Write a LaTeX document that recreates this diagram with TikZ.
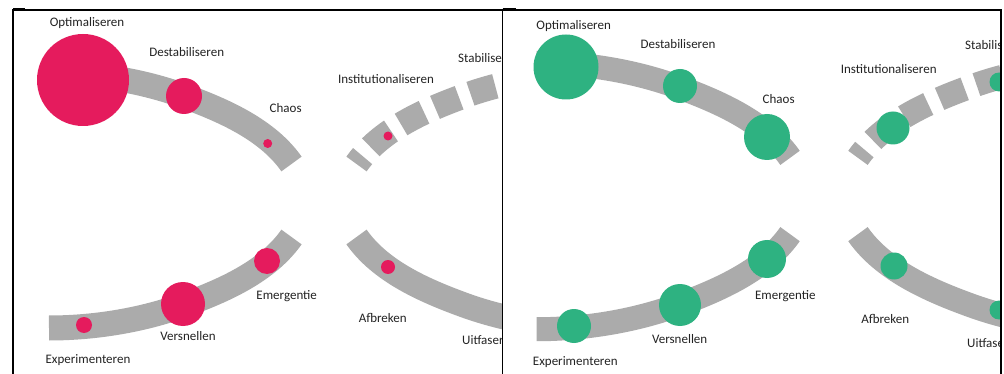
\documentclass[tikz,border=0pt]{standalone}
\usepackage{fontspec}
\setmainfont{Carlito}
\definecolor{pinkc}{RGB}{229,27,93}
\definecolor{greenc}{RGB}{46,178,129}
\definecolor{bandc}{RGB}{171,171,171}
\definecolor{txtc}{RGB}{35,35,35}
\newcommand{\bandcurve}{(-32.5,-36.5) .. controls (-56.6,-70.9) and (-100.5,-90.1) .. (-140,-104.5) .. controls (-182.3,-119.9) and (-230,-127.5) .. (-275,-127.5)}
\tikzset{
  bandL/.style={draw=bandc, line width=25pt, line cap=butt},
  bandR/.style={draw=bandc, line width=24pt, line cap=butt},
  dashL/.style={dash pattern=on 10pt off 12pt on 26pt off 12pt on 26pt off 12pt on 26pt off 12pt on 26pt off 12pt on 26pt off 12pt on 26pt off 12pt},
  dashR/.style={dash pattern=on 10.5pt off 12.5pt on 27pt off 12.5pt on 27pt off 12.5pt on 27pt off 12.5pt on 27pt off 12.5pt on 27pt off 12.5pt on 27pt off 12.5pt},
  pdot/.style={circle, fill=pinkc, inner sep=0pt, outer sep=0pt},
  gdot/.style={circle, fill=greenc, inner sep=0pt, outer sep=0pt},
  lbl/.style={text=txtc, font=\fontsize{13}{15}\selectfont, inner sep=0pt, anchor=mid},
  frame/.style={draw=black, line width=1.4pt}
}
\begin{document}
\begin{tikzpicture}[x=1pt, y=-1pt]
\useasboundingbox (0,0) rectangle (1004,374);
\fill[white] (0,0) rectangle (1004,374);

% ---------- left panel ----------
\begin{scope}
\clip (13,10) rectangle (502,374);
\begin{scope}[shift={(324,200.5)}]
  \draw[bandL] \bandcurve;
  \begin{scope}[yscale=-1] \draw[bandL] \bandcurve; \end{scope}
  \begin{scope}[xscale=-1] \draw[bandL, dashL] \bandcurve; \end{scope}
  \begin{scope}[xscale=-1, yscale=-1] \draw[bandL] \bandcurve; \end{scope}
\end{scope}
\node[pdot, minimum size=92pt] (lopt) at (83,80) {};
\node[pdot, minimum size=36pt] (ldes) at (184,96) {};
\node[pdot, minimum size=9pt] (lcha) at (267.7,143.5) {};
\node[pdot, minimum size=9pt] (lins) at (388,136) {};
\node[pdot, minimum size=16pt] (lexp) at (84,325) {};
\node[pdot, minimum size=44pt] (lver) at (183,304) {};
\node[pdot, minimum size=26pt] (leme) at (267,261) {};
\node[pdot, minimum size=14pt] (lafb) at (388,267) {};
\node[lbl] (tlopt) at (87,24) {Optimaliseren};
\node[lbl] (tldes) at (186.7,54) {Destabiliseren};
\node[lbl] (tlcha) at (285.7,110.5) {Chaos};
\node[lbl] (tlins) at (386,81) {Institutionaliseren};
\node[lbl, anchor=mid west] (tlsta) at (458,60) {Stabiliseren};
\node[lbl] (tlexp) at (88,361) {Experimenteren};
\node[lbl] (tlver) at (188,338.5) {Versnellen};
\node[lbl] (tleme) at (286.7,297) {Emergentie};
\node[lbl] (tlafb) at (382.7,320) {Afbreken};
\node[lbl, anchor=mid west] (tluit) at (462,342.5) {Uitfaseren};
\end{scope}

% ---------- right panel ----------
\begin{scope}
\clip (503,10) rectangle (1001,374);
\begin{scope}[shift={(824,196)}, scale=1.045]
  \draw[bandR] \bandcurve;
  \begin{scope}[yscale=-1] \draw[bandR] \bandcurve; \end{scope}
  \begin{scope}[xscale=-1] \draw[bandR, dashR] \bandcurve; \end{scope}
  \begin{scope}[xscale=-1, yscale=-1] \draw[bandR] \bandcurve; \end{scope}
\end{scope}
\node[gdot, minimum size=65pt] (ropt) at (566,67) {};
\node[gdot, minimum size=34pt] (rdes) at (680,86) {};
\node[gdot, minimum size=46pt] (rcha) at (767,137) {};
\node[gdot, minimum size=33pt] (rins) at (893,128) {};
\node[gdot, minimum size=19pt] (rsta) at (999,82) {};
\node[gdot, minimum size=34pt] (rexp) at (574,326) {};
\node[gdot, minimum size=42pt] (rver) at (680,305) {};
\node[gdot, minimum size=38pt] (reme) at (767,259) {};
\node[gdot, minimum size=27pt] (rafb) at (894,266) {};
\node[gdot, minimum size=19pt] (ruit) at (999,310) {};
\node[lbl] (tropt) at (573.7,27.5) {Optimaliseren};
\node[lbl] (trdes) at (678,46) {Destabiliseren};
\node[lbl] (trcha) at (778.7,101) {Chaos};
\node[lbl] (trins) at (888.7,71) {Institutionaliseren};
\node[lbl, anchor=mid west] (trsta) at (965,47.5) {Stabiliseren};
\node[lbl] (trexp) at (575.3,363) {Experimenteren};
\node[lbl] (trver) at (679.7,341) {Versnellen};
\node[lbl] (treme) at (785.3,297) {Emergentie};
\node[lbl] (trafb) at (885.3,321) {Afbreken};
\node[lbl, anchor=mid west] (truit) at (967,345) {Uitfaseren};
\end{scope}

% ---------- frame ----------
\draw[frame] (13,374) -- (13,10) -- (1001,10) -- (1001,374);
\draw[frame] (502.7,10) -- (502.7,374);
\draw[line width=2.4pt] (13,9.3) -- (25,9.3);
\draw[line width=2.4pt] (502.7,9.3) -- (516,9.3);
\end{tikzpicture}
\end{document}
